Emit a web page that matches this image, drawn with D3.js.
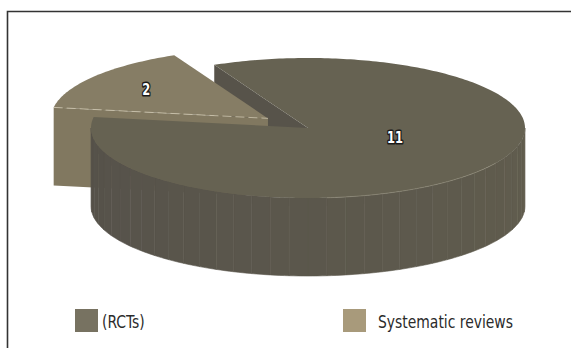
<!DOCTYPE html>
<html>
<head>
<meta charset="utf-8">
<script src="https://cdn.jsdelivr.net/npm/d3@7"></script>
<style>
	body { margin: 0; background: #fff; }
	svg { display: block; }
	text { font-family: "Liberation Sans Narrow", "DejaVu Sans Condensed", "Roboto Condensed", sans-serif; }
</style>
</head>
<body>
<svg id="chart" width="571" height="348"></svg>
<script>
// data
const categories = ['(RCTs)', 'Systematic reviews'];
const values = [11, 2];
const valueLabels = ['11', '2'];
const exploded = [false, true];

const W = 571, H = 348;
const cx = 308, cy = 128, rx = 217, ry = 70, depth = 78;
const explodeK = 0.23;
const deg = Math.PI / 180;

const svg = d3.select('#chart');

// frame
svg.append('path')
	.attr('d', `M7.5,${H} L7.5,11.5 L${W},11.5`)
	.attr('fill', 'none')
	.attr('stroke', '#333')
	.attr('stroke-width', 1.6);

const topColor = d3.scaleOrdinal().domain(categories).range(['#666252', '#867d65']);
const faceColor = d3.scaleOrdinal().domain(categories).range(['#57534a', '#817860']);
const swatchColor = d3.scaleOrdinal().domain(categories).range(['#777261', '#a89a7b']);
const sideColor = d3.scaleLinear().domain([0, 180]).range(['#615d4e', '#55514a']).interpolate(d3.interpolateRgb);

// ellipse in screen space: unit circle -> pixels
const xs = d3.scaleLinear().domain([-1, 1]).range([cx - rx, cx + rx]);
const ys = d3.scaleLinear().domain([-1, 1]).range([cy - ry, cy + ry]);

const pie = d3.pie().sort(null)
	.startAngle(334.4 * deg)
	.endAngle(334.4 * deg + 2 * Math.PI);
const arcs = pie(values);

// pie angle (clockwise from 12 o'clock) -> screen angle (clockwise from 3 o'clock)
const toT = a => a - Math.PI / 2;

arcs.forEach((d, i) => {
	const t0 = toT(d.startAngle), t1 = toT(d.endAngle);
	const tm = (t0 + t1) / 2;
	d.t0 = t0; d.t1 = t1; d.tm = tm;
	d.dx = exploded[i] ? (xs(Math.cos(tm) * explodeK) - cx) : 0;
	d.dy = exploded[i] ? (ys(Math.sin(tm) * explodeK) - cy) : 0;
	d.cat = categories[i];
});

const pt = (d, t, z = 0) => [xs(Math.cos(t)) + d.dx, ys(Math.sin(t)) + d.dy + z];
const ctr = (d, z = 0) => [cx + d.dx, cy + d.dy + z];
const line = d3.line();

function topPath(d) {
	const n = Math.max(2, Math.ceil((d.t1 - d.t0) / (1 * deg)));
	const pts = [ctr(d)];
	d3.range(n + 1).forEach(k => pts.push(pt(d, d.t0 + (d.t1 - d.t0) * k / n)));
	return line(pts) + 'Z';
}

function facePath(d, t) {
	return line([ctr(d), pt(d, t), pt(d, t, depth), ctr(d, depth)]) + 'Z';
}

// visible part of the outer wall: screen angles in [0, 180] (mod 360)
function frontRange(d) {
	const out = [];
	for (let k = -1; k <= 2; k++) {
		const a = Math.max(d.t0, k * 2 * Math.PI), b = Math.min(d.t1, k * 2 * Math.PI + Math.PI);
		if (b > a) out.push([a, b, k]);
	}
	return out;
}

const rct = arcs[0], sys = arcs[1];
const g = svg.append('g');

// cut wall of the big slice at its start edge (seen through the gap)
g.append('path')
	.attr('d', facePath(rct, rct.t0))
	.attr('fill', faceColor(rct.cat));

// exploded slice: front cut face then top
g.append('path')
	.attr('d', facePath(sys, sys.t0))
	.attr('fill', faceColor(sys.cat));
g.append('path')
	.attr('d', topPath(sys))
	.attr('fill', topColor(sys.cat));
g.append('path')
	.attr('d', line([pt(sys, sys.t0), ctr(sys)]))
	.attr('stroke', '#cfc7b0')
	.attr('stroke-width', 1)
	.attr('stroke-dasharray', '9 4')
	.attr('opacity', 0.8);

// outer wall of the big slice, in strips
frontRange(rct).forEach(([a, b, k]) => {
	const step = 5 * deg;
	const n = Math.ceil((b - a) / step);
	d3.range(n).forEach(j => {
		const s0 = a + (b - a) * j / n, s1 = a + (b - a) * (j + 1) / n;
		const m = 4;
		const upper = d3.range(m + 1).map(q => pt(rct, s0 + (s1 - s0) * q / m));
		const lower = d3.range(m + 1).map(q => pt(rct, s1 - (s1 - s0) * q / m, depth));
		const sm = ((s0 + s1) / 2 - k * 2 * Math.PI) / deg;
		const c = sideColor(sm);
		g.append('path')
			.attr('d', line(upper.concat(lower)) + 'Z')
			.attr('fill', c)
			.attr('stroke', c)
			.attr('stroke-width', 0.6);
		if (j % 2 === 1 && j > 2 && j < n - 2) {
			g.append('path')
				.attr('d', line([pt(rct, s0, 8), pt(rct, s0, depth - 4)]))
				.attr('stroke', '#8a8675')
				.attr('stroke-width', 0.5)
				.attr('opacity', 0.2);
		}
	});
});

// top of the big slice
g.append('path')
	.attr('d', topPath(rct))
	.attr('fill', topColor(rct.cat));

// soft light rim on the front edge
g.append('path')
	.attr('d', line(d3.range(30, 86, 1).map(a => pt(rct, 2 * Math.PI + a * deg))))
	.attr('fill', 'none')
	.attr('stroke', '#a39f8c')
	.attr('stroke-width', 0.8)
	.attr('opacity', 0.6);

// value labels
const labelAt = [[0.5, 0.22], [0.7, 0.7]];
g.selectAll('text.val')
	.data(arcs)
	.join('text')
	.attr('class', 'val')
	.attr('transform', (d, i) => {
		const x = cx + d.dx + (xs(Math.cos(d.tm)) - cx) * labelAt[i][0];
		const y = cy + d.dy + (ys(Math.sin(d.tm)) - cy) * labelAt[i][1];
		return `translate(${x},${y}) scale(0.8,1)`;
	})
	.attr('dy', '0.36em')
	.attr('text-anchor', 'middle')
	.attr('font-size', 16)
	.attr('font-weight', 'bold')
	.attr('fill', '#fff')
	.attr('stroke', '#1a1a1a')
	.attr('stroke-width', 3)
	.attr('stroke-linejoin', 'round')
	.attr('paint-order', 'stroke')
	.text((d, i) => valueLabels[i]);

// legend
const legendX = [75, 343];
const legendGap = [4, 12];
const legend = svg.append('g').selectAll('g')
	.data(categories)
	.join('g')
	.attr('transform', (d, i) => `translate(${legendX[i]},309)`);
legend.append('rect')
	.attr('width', 23).attr('height', 23)
	.attr('fill', d => swatchColor(d));
legend.append('text')
	.attr('transform', (d, i) => `translate(${23 + legendGap[i]},19) scale(0.86,1)`)
	.attr('font-size', 18)
	.attr('fill', '#2b2b2b')
	.text(d => d);
</script>
</body>
</html>
